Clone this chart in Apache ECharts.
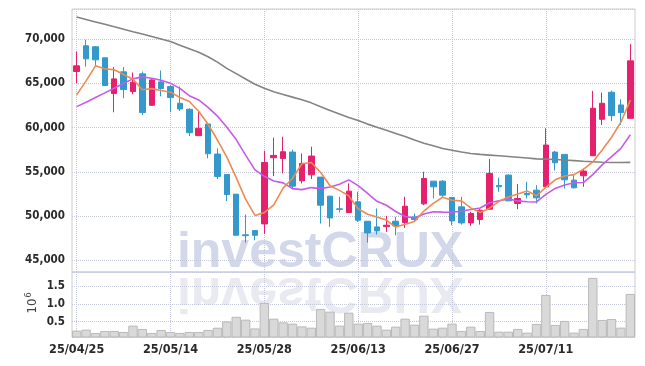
<!DOCTYPE html>
<html>
<head>
<meta charset="utf-8">
<script src="https://cdn.jsdelivr.net/npm/echarts@6/dist/echarts.min.js"></script>
<style>
html,body{margin:0;padding:0;background:#fff;}
#chart{width:645px;height:366px;}
</style>
</head>
<body>
<div id="chart"></div>
<script>
const dates = ['25/04/25','25/04/28','25/04/29','25/04/30','25/05/02','25/05/07','25/05/08','25/05/09','25/05/12','25/05/13',
'25/05/14','25/05/15','25/05/16','25/05/19','25/05/20','25/05/21','25/05/22','25/05/23','25/05/26','25/05/27',
'25/05/28','25/05/29','25/05/30','25/06/02','25/06/04','25/06/05','25/06/09','25/06/10','25/06/11','25/06/12',
'25/06/13','25/06/16','25/06/17','25/06/18','25/06/19','25/06/20','25/06/23','25/06/24','25/06/25','25/06/26',
'25/06/27','25/06/30','25/07/01','25/07/02','25/07/03','25/07/04','25/07/07','25/07/08','25/07/09','25/07/10',
'25/07/11','25/07/14','25/07/15','25/07/16','25/07/17','25/07/18','25/07/21','25/07/22','25/07/23','25/07/24'];

const open = [66340,69245,69132,67887,63849,66302,64075,66075,62528,65170,
64642,62755,62075,59094,60415,57019,54717,52491,47900,48377,
49132,56604,56528,57245,54000,54679,54415,52264,50830,50415,
51623,49434,48792,48830,49434,49283,49925,51396,53962,53962,
52113,51057,49245,49623,50792,53472,54642,51434,52566,52943,
53321,57245,56981,54075,54566,56830,60943,64000,62566,61057];

const close = [66981,67774,67660,64755,65509,64302,65132,61698,65396,64415,
63396,62113,59434,59925,57057,54491,52453,47849,47800,47849,
56075,56868,57283,53396,55962,56792,51245,49811,50780,52830,
49547,48113,48340,48981,48906,51132,49623,54264,53321,52377,
49472,49245,50302,50679,54830,53321,51736,52000,52415,52075,
58038,56038,54113,53208,55094,62189,62755,61358,61698,67547];

const high = [68604,69925,69208,67900,66830,66830,66226,66340,65450,66453,
64830,64642,62189,61811,60415,57660,54717,52491,50189,48400,
57396,58868,58981,57509,57094,57849,54415,52264,52189,53698,
52755,49434,50868,50038,49925,52189,50302,55019,53962,54075,
52113,52189,50491,50792,56453,54340,54717,53623,53887,53509,
59925,57358,56981,54642,55396,64151,63962,64189,63208,69434];

const low = [65019,66906,66981,64700,61736,63321,63774,61434,62453,63547,
61736,61887,59057,59094,56528,54189,51698,47849,47019,47283,
48000,54528,54830,53019,53698,54189,49170,48792,50415,50400,
49358,47019,47925,48226,47849,48679,49358,51245,52000,52113,
48981,49057,48906,49057,50750,52755,51700,50792,52000,51434,
53208,55170,53132,53132,53321,56800,60302,60755,60302,61000];

const ma5 = [63700,65280,66980,66640,66536,66000,65472,64279,64407,64189,
64007,63404,62951,61857,60385,58604,56672,54355,51930,50088,
50405,51288,53175,54294,55917,56060,54936,53441,52918,52292,
50843,50216,49922,49562,48777,49094,49396,50581,51449,52143,
51811,51736,50943,50415,50906,51675,52174,52513,52860,52309,
53253,54113,54536,54694,55298,56128,57472,58921,60619,63109];

const ma10 = [62377,62868,63396,63925,64453,65019,65509,65736,65585,65362,
65004,64438,63615,63132,62287,61306,60038,58653,56893,55237,
54505,53980,53765,53112,53003,53233,53112,53308,53606,54104,
53451,52576,51682,51240,50535,49969,49806,50252,50506,50460,
50453,50566,50762,50932,51525,51743,51955,51728,51638,51608,
52464,53143,53525,53777,53804,54691,55793,56728,57657,59204];

const maLong = [72490,72210,71940,71670,71390,71120,70840,70570,70290,70020,
69720,69320,68920,68520,68000,67400,66700,66100,65500,64900,
64450,64050,63750,63450,63150,62800,62350,61950,61550,61150,
60800,60400,60050,59700,59350,59000,58600,58250,57950,57650,
57450,57250,57080,56980,56900,56820,56740,56660,56580,56480,
56450,56400,56350,56280,56200,56150,56090,56070,56070,56080];

const volume = [248000,276000,183000,239000,239000,211000,388000,296000,183000,267000,
211000,183000,211000,211000,267000,330000,505000,636000,556000,310000,
1024000,584000,480000,444000,368000,332000,856000,780000,388000,752000,
444000,463000,388000,276000,360000,584000,416000,668000,304000,332000,
444000,239000,360000,239000,772000,220000,220000,296000,192000,436000,
1248000,408000,520000,192000,296000,1724000,548000,576000,332000,1276000];

const labelDates = [0,10,20,30,40,50];

const FONT = '"DejaVu Sans Condensed", "DejaVu Sans", sans-serif';
const GRID_COLOR = '#c4c8da';

const ohlc = dates.map((d, i) => [open[i], close[i], low[i], high[i]]);
const vLines = labelDates.map(i => ({ xAxis: dates[i] }));
const markVLines = {
  silent: true, symbol: ['none', 'none'], z: 0,
  label: { show: false },
  lineStyle: { type: 'dotted', color: GRID_COLOR, width: 1 },
  emphasis: { disabled: true },
  data: vLines
};

const chart = echarts.init(document.getElementById('chart'), null, { renderer: 'canvas' });
chart.setOption({
  animation: false,
  backgroundColor: '#ffffff',
  graphic: [
    { type: 'text', x: 320, y: 253, z: -10, silent: true,
      style: { text: 'investCRUX', font: 'bold 50px "Liberation Sans", sans-serif', fill: '#d2d7e9', align: 'center', verticalAlign: 'middle' } },
    { type: 'text', x: 320, y: 292, scaleY: -1, z: -10, silent: true,
      style: { text: 'investCRUX', font: 'bold 50px "Liberation Sans", sans-serif', fill: '#e8e9f1', align: 'center', verticalAlign: 'middle' } },
    { type: 'text', x: 33, y: 306, rotation: Math.PI / 2, silent: true,
      style: { text: '10', font: '13px "DejaVu Sans Condensed", sans-serif', fill: '#444', align: 'center', verticalAlign: 'middle' } },
    { type: 'text', x: 29, y: 295, rotation: Math.PI / 2, silent: true,
      style: { text: '6', font: '9px "DejaVu Sans Condensed", sans-serif', fill: '#444', align: 'center', verticalAlign: 'middle' } }
  ],
  grid: [
    { left: 72, right: 10, top: 9, height: 263, show: true, borderColor: '#cccccc', borderWidth: 1, backgroundColor: 'transparent' },
    { left: 72, right: 10, top: 272, height: 65, show: true, borderColor: '#cccccc', borderWidth: 1, backgroundColor: 'transparent' }
  ],
  xAxis: [
    { type: 'category', gridIndex: 0, data: dates, boundaryGap: true,
      axisLine: { show: false }, axisTick: { show: false }, axisLabel: { show: false }, splitLine: { show: false } },
    { type: 'category', gridIndex: 1, data: dates, boundaryGap: true,
      axisLine: { show: false }, axisTick: { show: false }, splitLine: { show: false },
      axisLabel: { interval: 9, margin: 6, fontFamily: FONT, fontWeight: 'bold', fontSize: 12.5, color: '#2a2a2a' } }
  ],
  yAxis: [
    { type: 'value', gridIndex: 0, min: 43700, max: 73400, splitNumber: 5, scale: true,
      axisLine: { show: false }, axisTick: { show: false },
      axisLabel: { showMinLabel: false, showMaxLabel: false, margin: 7, fontFamily: FONT, fontWeight: 'bold', fontSize: 11.5, color: '#2a2a2a',
        formatter: v => v.toLocaleString('en-US') },
      splitLine: { show: true, lineStyle: { type: 'dotted', color: GRID_COLOR } } },
    { type: 'value', gridIndex: 1, min: 70000, max: 1890000, splitNumber: 3, scale: true,
      axisLine: { show: false }, axisTick: { show: false },
      axisLabel: { showMinLabel: false, showMaxLabel: false, margin: 7, fontFamily: FONT, fontWeight: 'bold', fontSize: 11.5, color: '#2a2a2a',
        formatter: v => (v / 1e6).toFixed(1) },
      splitLine: { show: true, lineStyle: { type: 'dotted', color: GRID_COLOR } } }
  ],
  series: [
    { type: 'candlestick', xAxisIndex: 0, yAxisIndex: 0, data: ohlc, barWidth: 6,
      itemStyle: { color: '#e5206c', color0: '#3399cc', borderColor: '#e5206c', borderColor0: '#3399cc', borderWidth: 1 },
      markLine: markVLines },
    { type: 'line', xAxisIndex: 0, yAxisIndex: 0, data: maLong, showSymbol: false, symbol: 'none',
      lineStyle: { color: '#838383', width: 1.6 } },
    { type: 'line', xAxisIndex: 0, yAxisIndex: 0, data: ma10, showSymbol: false, symbol: 'none',
      lineStyle: { color: '#c75ae9', width: 1.6 } },
    { type: 'line', xAxisIndex: 0, yAxisIndex: 0, data: ma5, showSymbol: false, symbol: 'none',
      lineStyle: { color: '#ef8a52', width: 1.6 } },
    { type: 'bar', xAxisIndex: 1, yAxisIndex: 1, data: volume, barCategoryGap: '0%',
      itemStyle: { color: '#d9d9d9', borderColor: '#b9b9b9', borderWidth: 1 },
      markLine: markVLines }
  ]
});
</script>
</body>
</html>
